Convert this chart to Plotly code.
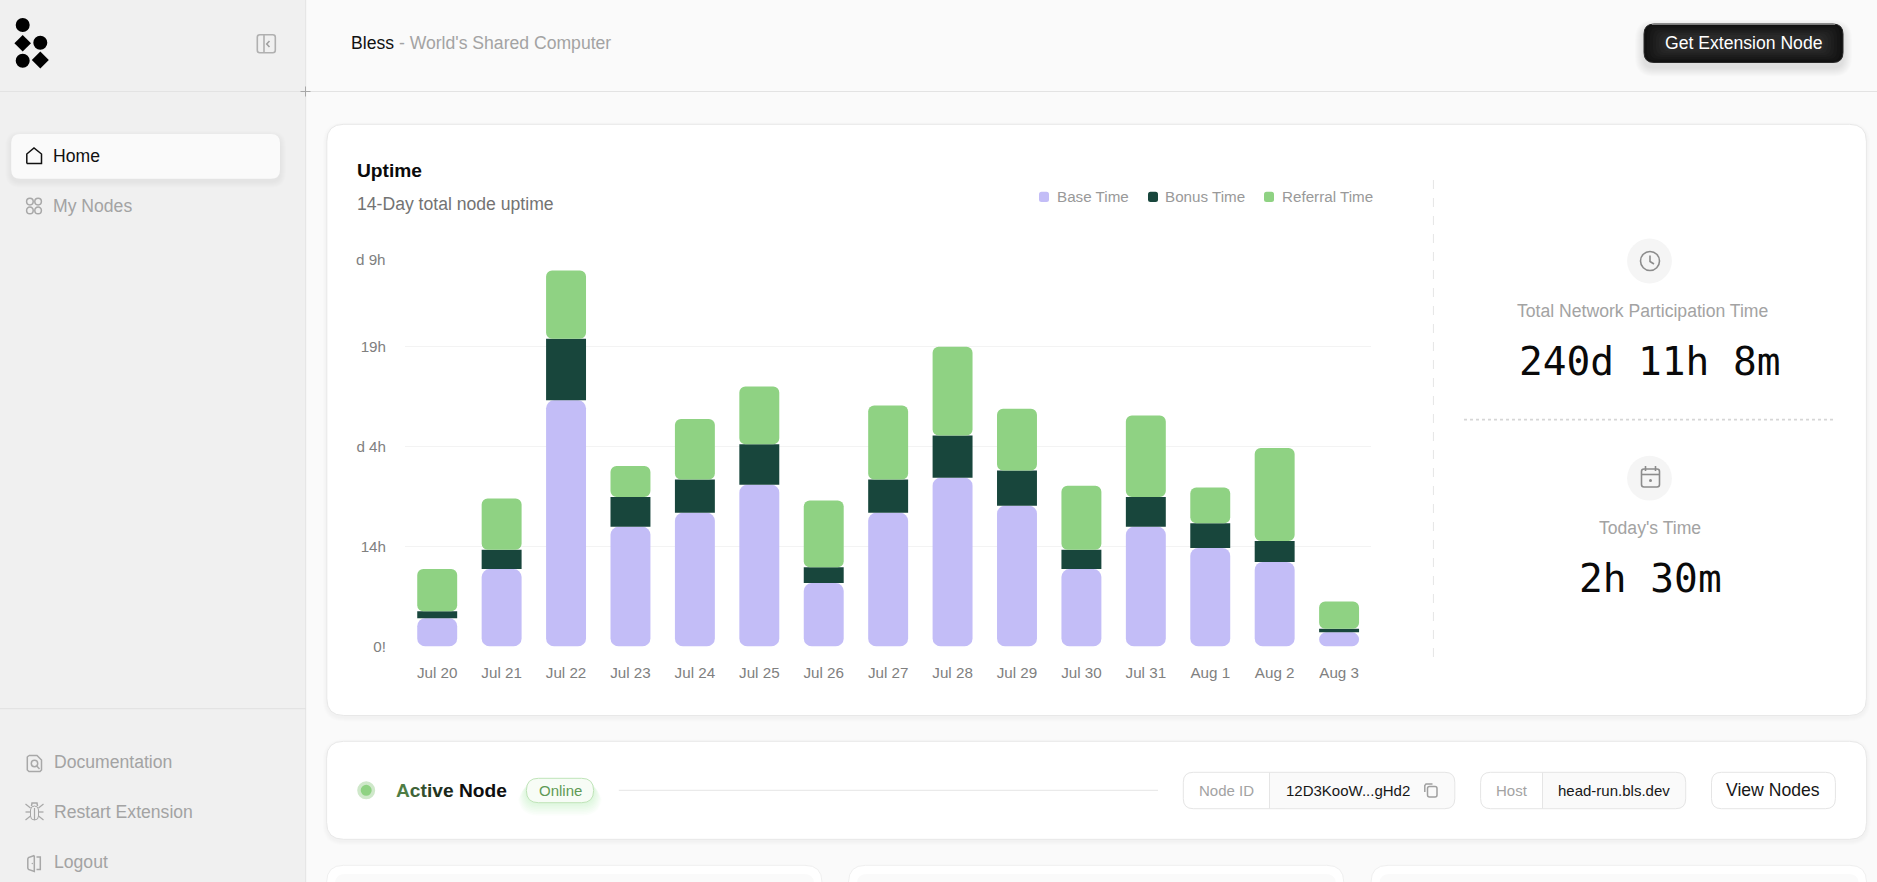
import numpy as np
import plotly.graph_objects as go

W, H = 1877, 882

# chart values, hours per day
days = ['Jul 20', 'Jul 21', 'Jul 22', 'Jul 23', 'Jul 24', 'Jul 25', 'Jul 26', 'Jul 27',
        'Jul 28', 'Jul 29', 'Jul 30', 'Jul 31', 'Aug 1', 'Aug 2', 'Aug 3']
base_time = [4, 11, 35, 17, 19, 23, 9, 19, 24, 20, 11, 17, 14, 12, 2]
bonus_time = [1, 2.75, 8.75, 4.25, 4.75, 5.75, 2.25, 4.75, 6, 5, 2.75, 4.25, 3.5, 3, 0.5]
referral_time = [6, 7.3, 9.7, 4.4, 8.6, 8.2, 9.5, 10.5, 12.6, 8.8, 9.1, 11.6, 5.1, 13.2, 3.9]
y_tick_vals = [0, 14.2, 28.4, 42.6, 56.8]
y_tick_text = ['0!', '14h', 'd 4h', '19h', '']
top_tick_text = 'd 9h'

LAVENDER = '#c3bdf7'
DARK = '#18463c'
GREEN = '#8fd283'
GRAY = '#a3a3a3'
BORDER = '#e8e8e8'
SANS = 'Liberation Sans'
MONO = 'DejaVu Sans Mono'


def px(x):
    return x / W


def py(y):
    return 1 - y / H


def rrect_path(x0, y0, x1, y1, r):
    return (f'M{px(x0 + r)},{py(y0)} L{px(x1 - r)},{py(y0)} Q{px(x1)},{py(y0)} {px(x1)},{py(y0 + r)} '
            f'L{px(x1)},{py(y1 - r)} Q{px(x1)},{py(y1)} {px(x1 - r)},{py(y1)} '
            f'L{px(x0 + r)},{py(y1)} Q{px(x0)},{py(y1)} {px(x0)},{py(y1 - r)} '
            f'L{px(x0)},{py(y0 + r)} Q{px(x0)},{py(y0)} {px(x0 + r)},{py(y0)} Z')


shapes = []


def rrect(x0, y0, x1, y1, r, fill='rgba(0,0,0,0)', line=None, width=1):
    shapes.append(dict(type='path', path=rrect_path(x0, y0, x1, y1, r), xref='paper', yref='paper',
                       layer='below', fillcolor=fill,
                       line=dict(color=line or 'rgba(0,0,0,0)', width=width if line else 0)))


def shadow(x0, y0, x1, y1, r, color='0,0,0', alpha=0.012, steps=5, dy=2):
    for i in range(steps, 0, -1):
        rrect(x0 - i, y0 - i + dy, x1 + i, y1 + i + dy, r + i, fill=f'rgba({color},{alpha})')


def poly(points, color, width=1.5, fill='rgba(0,0,0,0)', close=False):
    path = 'M' + ' L'.join(f'{px(x)},{py(y)}' for x, y in points) + (' Z' if close else '')
    shapes.append(dict(type='path', path=path, xref='paper', yref='paper', layer='below',
                       fillcolor=fill, line=dict(color=color, width=width)))


def hline(x0, x1, y, color, width=1, dash='solid'):
    shapes.append(dict(type='line', x0=px(x0), x1=px(x1), y0=py(y), y1=py(y), xref='paper', yref='paper',
                       layer='below', line=dict(color=color, width=width, dash=dash)))


def vline(x, y0, y1, color, width=1, dash='solid'):
    shapes.append(dict(type='line', x0=px(x), x1=px(x), y0=py(y0), y1=py(y1), xref='paper', yref='paper',
                       layer='below', line=dict(color=color, width=width, dash=dash)))


def circle(cx, cy, r, fill='rgba(0,0,0,0)', line=None, width=1.5):
    shapes.append(dict(type='circle', x0=px(cx - r), x1=px(cx + r), y0=py(cy + r), y1=py(cy - r),
                       xref='paper', yref='paper', layer='below', fillcolor=fill,
                       line=dict(color=line or 'rgba(0,0,0,0)', width=width if line else 0)))


annotations = []


def label(x, y, text, size=17.6, color=GRAY, anchor='left', family=SANS, weight=None):
    # annotations keep a small pad on the left
    x = x - 2.5 if anchor == 'left' else x
    annotations.append(dict(x=px(x), y=py(y), xref='paper', yref='paper', text=text, showarrow=False,
                            xanchor=anchor, yanchor='middle',
                            font=dict(family=family, size=size, color=color, weight=weight)))


# sidebar
rrect(-10, -10, 306, H + 10, 0, fill='#f0f0f0')
vline(305.7, 0, H, '#e4e4e4')
hline(0, W, 91.5, '#e3e3e3')
hline(0, 306, 708.7, '#e0e0e0')
hline(300.5, 310.5, 91.5, '#a8a8a8')
vline(305.5, 86.5, 96.5, '#a8a8a8')

# logo
circle(22.7, 25, 7, fill='#000')
circle(40.3, 42.7, 7, fill='#000')
circle(22.7, 60.7, 7, fill='#000')
poly([(22.7, 35), (31, 43.3), (22.7, 51.6), (14.4, 43.3)], '#000', 0, fill='#000', close=True)
poly([(40.3, 51.5), (48.8, 60), (40.3, 68.5), (31.8, 60)], '#000', 0, fill='#000', close=True)

# collapse button
rrect(257.3, 34.7, 275.3, 52.7, 2.5, line='#b0b0b0', width=1.6)
vline(264, 34.7, 52.7, '#b0b0b0', 1.6)
poly([(269.5, 41), (266.7, 44), (269.5, 47)], '#a0a0a0', 1.6)

# nav
shadow(11.2, 134, 280, 178.7, 9, alpha=0.008, steps=6, dy=3)
rrect(11.2, 134, 280, 178.7, 9, fill='#fafafa')
poly([(26.8, 163.5), (26.8, 154), (34, 148), (41.5, 154), (41.5, 163.5), (26.8, 163.5)], '#111', 1.5)
for cx, cy in [(29.9, 201.6), (38.1, 201.6), (29.9, 210.4), (38.1, 210.4)]:
    circle(cx, cy, 3.3, line='#a8a8a8', width=1.5)
label(53.6, 156, 'Home', color='#111111')
label(53.6, 205.7, 'My Nodes')

# documentation icon
poly([(29, 755.5), (37, 755.5), (41.5, 760), (41.5, 770), (40, 771.5), (29, 771.5), (27.3, 770), (27.3, 757),
      (29, 755.5)], '#a8a8a8', 1.5)
circle(34.5, 763.5, 3.2, line='#a8a8a8')
poly([(36.8, 766), (39.5, 769)], '#a8a8a8')
# bug icon
rrect(30.5, 806, 38.5, 820, 4, line='#a8a8a8')
poly([(31.5, 806), (32, 803), (37, 803), (37.5, 806)], '#a8a8a8')
vline(34.5, 808, 820, '#a8a8a8', 1.2)
for y0_leg, y1_leg in [(804, 808), (812, 812), (820, 816)]:
    poly([(25.5, y0_leg), (30.5, y1_leg)], '#a8a8a8', 1.3)
    poly([(43.5, y0_leg), (38.5, y1_leg)], '#a8a8a8', 1.3)
# logout icon
poly([(34.3, 855.5), (34.3, 871.5), (28.5, 869.5), (27.8, 868), (27.8, 859), (28.5, 857.5), (34.3, 855.5)],
     '#a8a8a8', 1.5)
poly([(36.5, 857), (40.3, 857), (40.3, 869.5), (36.5, 869.5)], '#a8a8a8', 1.5)
circle(32.3, 863.5, 0.7, fill='#a8a8a8')
label(54, 762, 'Documentation')
label(54, 811.7, 'Restart Extension')
label(54, 862, 'Logout')

# header
label(351, 42.5, 'Bless<span style="color:#a3a3a3"> - World\'s Shared Computer</span>', color='#111111')
shadow(1644, 24, 1843, 62.5, 10, alpha=0.012, steps=9, dy=5)
rrect(1644, 24, 1843, 62.5, 10, fill='#111111', line='#2a2a2a')
hline(1652, 1835, 24.4, '#8a8a8a', 1)
# lighter middle of the button, stacked to fake the gradient
for i in range(1, 7):
    rrect(1644 + i * 3, 24 + i * 1.8, 1843 - i * 3, 62.5 - i * 1.8, 8, fill='rgba(255,255,255,0.018)')
label(1743.7, 42.5, 'Get Extension Node', color='#ffffff', anchor='center')

# main card
shadow(326.8, 124.3, 1866.4, 715.5, 17, alpha=0.006, steps=4)
rrect(326.8, 124.3, 1866.4, 715.5, 17, fill='#ffffff', line=BORDER)
label(357.5, 170, 'Uptime', size=19.2, color='#0a0a0a', weight=700)
label(357.5, 203.6, '14-Day total node uptime', color='#737373')

# legend row, drawn by hand so it sits where the original has it
for x0, color, x_text, name in [(1039, LAVENDER, 1057, 'Base Time'), (1148, DARK, 1165.5, 'Bonus Time'),
                                (1264, GREEN, 1282, 'Referral Time')]:
    rrect(x0, 191.8, x0 + 10, 202, 2.5, fill=color)
    label(x_text, 196.8, name, size=15.2, color='#999999')

# right panel
vline(1433.4, 180, 660.7, '#e5e5e5', 1, 'dash')
hline(1464, 1836, 419.6, '#d6d6d6', 1.6, 'dot')

circle(1649.5, 261, 22.4, fill='#f5f5f5')
circle(1650, 261, 9.5, line='#8c8c8c', width=1.6)
poly([(1650, 255.5), (1650, 261.5), (1654, 264)], '#8c8c8c', 1.6)
label(1642.3, 311, 'Total Network Participation Time', anchor='center')
label(1649.6, 360.7, '240d 11h 8m', size=39.5, color='#0a0a0a', anchor='center', family=MONO)

circle(1649.5, 478.2, 22.4, fill='#f5f5f5')
rrect(1641.5, 469, 1659.5, 487, 2.5, line='#8c8c8c', width=1.6)
hline(1641.5, 1659.5, 474.5, '#8c8c8c', 1.6)
vline(1645.5, 466, 471, '#8c8c8c', 1.6)
vline(1655.5, 466, 471, '#8c8c8c', 1.6)
circle(1650.5, 480.5, 1.5, fill='#8c8c8c')
label(1650, 527.9, "Today's Time", anchor='center')
label(1650, 577.9, '2h 30m', size=39.5, color='#0a0a0a', anchor='center', family=MONO)

# active node card
shadow(326.6, 741.3, 1866.6, 839.3, 17, alpha=0.006, steps=4)
rrect(326.6, 741.3, 1866.6, 839.3, 17, fill='#ffffff', line=BORDER)
circle(366.2, 790.3, 9, fill='#cfe8ca')
circle(366.2, 790.3, 5.5, fill=GREEN)
label(396, 790.3, '<span style="color:#4f7d45">A</span><span style="color:#3f6338">c</span>'
      '<span style="color:#34512f">t</span><span style="color:#2b4228">i</span>'
      '<span style="color:#223420">v</span><span style="color:#1a2719">e</span> Node',
      size=19.2, color='#0f0f0f', weight=700)
for i in range(8, 0, -1):
    rrect(526.4 - i, 778.3 + i * 0.8, 593.6 + i, 802.7 + i * 1.6, 12 + i, fill='rgba(143,210,131,0.03)')
rrect(526.4, 778.3, 593.6, 802.7, 12, fill='#f7fcf6', line='#bfe4b8')
label(560, 790.3, 'Online', size=15, color='#5f9a55', anchor='center')
hline(618.8, 1158, 790.3, '#e5e5e5')

rrect(1269.5, 772.3, 1454.8, 808.7, 10, fill='#fafafa')
rrect(1269.5, 772.3, 1285, 808.7, 0, fill='#fafafa')
rrect(1183.3, 772.3, 1454.8, 808.7, 10, line='#e5e5e5')
vline(1269.5, 772.3, 808.7, '#e5e5e5')
label(1226.4, 790, 'Node ID', size=15, anchor='center')
label(1347.5, 790, '12D3KooW...gHd2', size=15, color='#171717', anchor='center')
rrect(1427.5, 786.5, 1437, 797, 2, line='#a0a0a0', width=1.5)
poly([(1424.8, 792), (1424.8, 785.5), (1426, 784), (1432.5, 784)], '#a0a0a0', 1.5)

rrect(1542.5, 772.3, 1685.7, 808.7, 10, fill='#fafafa')
rrect(1542.5, 772.3, 1560, 808.7, 0, fill='#fafafa')
rrect(1480.6, 772.3, 1685.7, 808.7, 10, line='#e5e5e5')
vline(1542.5, 772.3, 808.7, '#e5e5e5')
label(1511.8, 790, 'Host', size=15, anchor='center')
label(1613.9, 790, 'head-run.bls.dev', size=15, color='#171717', anchor='center')

rrect(1711.5, 772.3, 1835.4, 808.7, 10, fill='#ffffff', line='#e5e5e5')
label(1773.4, 790, 'View Nodes', color='#171717', anchor='center')

# bottom row of cards, cut by the window edge
for x0, x1 in [(326.6, 822), (848.5, 1343.8), (1371, 1866.6)]:
    rrect(x0, 865.3, x1, H + 30, 17, fill='#ffffff', line='#efefef')
    rrect(x0 + 8.5, 874, x1 - 8, H + 30, 10, fill='#fafafa')

base_arr = np.array(base_time, dtype=float)
bonus_arr = np.array(bonus_time, dtype=float)
referral_arr = np.array(referral_time, dtype=float)

fig = go.Figure()
# bars grow down from the top of the base part so the corners round at the bottom
fig.add_trace(go.Bar(
    x=days, y=-base_arr, base=base_arr, name='Base Time', width=0.62,
    marker=dict(color=LAVENDER, cornerradius=8, line_width=0),
    customdata=base_arr, hovertemplate='Base Time: %{customdata}h<extra></extra>'
))
fig.add_trace(go.Bar(
    x=days, y=bonus_arr, base=base_arr, name='Bonus Time', width=0.62,
    marker=dict(color=DARK, line_width=0),
    hovertemplate='Bonus Time: %{y}h<extra></extra>'
))
fig.add_trace(go.Bar(
    x=days, y=referral_arr, base=base_arr + bonus_arr, name='Referral Time', width=0.62,
    marker=dict(color=GREEN, cornerradius=6, line_width=0),
    hovertemplate='Referral Time: %{y}h<extra></extra>'
))

annotations.append(dict(x=px(388), y=y_tick_vals[-1], xref='paper', yref='y', yshift=-12,
                        text=top_tick_text, showarrow=False, xanchor='right', yanchor='middle',
                        font=dict(family=SANS, size=15.2, color='#808080')))

fig.update_layout(
    width=W,
    height=H,
    margin=dict(l=0, r=0, t=0, b=0, autoexpand=False),
    paper_bgcolor='#fafafa',
    plot_bgcolor='rgba(0,0,0,0)',
    barmode='overlay',
    showlegend=False,
    shapes=shapes,
    annotations=annotations,
    font=dict(family=SANS),
    xaxis=dict(
        domain=[px(405), px(1371.3)],
        type='category',
        range=[-0.5, 14.5],
        showgrid=False,
        zeroline=False,
        showline=False,
        ticks='',
        ticklabelstandoff=15,
        tickfont=dict(size=15.2, color='#808080'),
    ),
    yaxis=dict(
        domain=[py(646.4), py(247)],
        range=[0, 56.8],
        tickvals=y_tick_vals,
        ticktext=y_tick_text,
        gridcolor='#f3f3f3',
        gridwidth=1.3,
        zeroline=False,
        showline=False,
        ticks='',
        ticklabelstandoff=18,
        tickfont=dict(size=15.2, color='#808080'),
    ),
)

page_fix = ("for (const el of [document.documentElement, document.body]) {"
            "el.style.margin='0';el.style.height='882px';el.style.overflow='hidden';}")
fig.write_html("out.html", post_script=page_fix, config={'displayModeBar': False})
